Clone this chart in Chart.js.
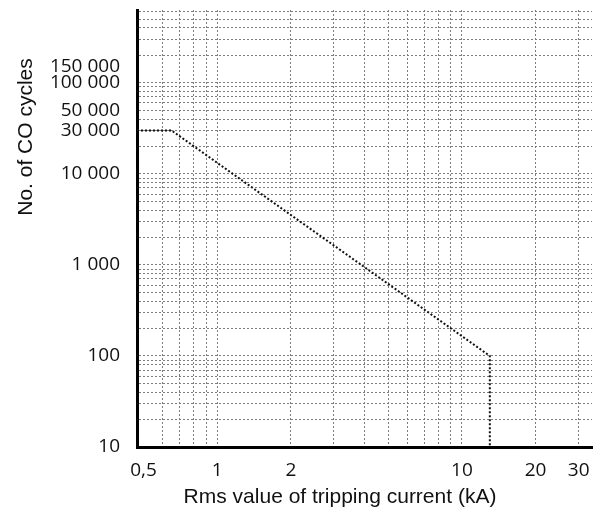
<!DOCTYPE html>
<html>
<head>
<meta charset="utf-8">
<script src="https://cdn.jsdelivr.net/npm/chart.js@4.4.1/dist/chart.umd.min.js"></script>
<style>
  html, body { margin: 0; padding: 0; background: #fff; }
  #wrap { width: 594px; height: 513px; }
</style>
</head>
<body>
<div id="wrap"><canvas id="chart"></canvas></div>
<script>
// ── Data ──────────────────────────────────────────────────────
const currentKA = [0.47, 0.65, 13, 13];        // kA
const coCycles  = [30000, 30000, 100, 10];     // no. of CO cycles

// ── Axis ticks / grid ─────────────────────────────────────────
const xMin = 0.47, xMax = 34;
const yMin = 10,   yMax = 630000;

const xLabelValues = [0.5, 1, 2, 10, 20, 30];
const xLabelTexts  = ['0,5', '1', '2', '10', '20', '30'];
const xGridValues  = [0.6, 0.7, 0.8, 0.9, 1, 2, 3, 4, 5, 6, 7, 8, 9, 10, 20, 30];

const yLabelValues = [10, 100, 1000, 10000, 30000, 50000, 100000, 150000];
const yLabelTexts  = ['10', '100', '1 000', '10 000', '30 000', '50 000', '100 000', '150 000'];
const yDecades     = [10, 100, 1000, 10000, 100000];
const ySteps       = [1, 2, 3, 4, 5, 6, 7, 8, 9];

const xTitle = 'Rms value of tripping current (kA)';
const yTitle = 'No. of CO cycles';

const yGridValues = yDecades.flatMap(d => ySteps.map(s => s * d)).filter(v => v <= yMax);

const xTicks = [...new Set([...xLabelValues, ...xGridValues])].sort((a, b) => a - b);
const yTicks = [...new Set([...yLabelValues, ...yGridValues])].sort((a, b) => a - b);

const GRID_COLOR = '#7d7d7d';
const TICK_FONT  = { family: '"Open Sans", "Noto Sans", sans-serif', size: 19 };

const gridColor = (values) => (c) =>
  c.tick && values.includes(c.tick.value) ? GRID_COLOR : 'rgba(0,0,0,0)';

const labelFor = (values, texts) => (val) => {
  const i = values.indexOf(val);
  return i >= 0 ? texts[i] : '';
};

// ── Axis titles (placed like the reference, off-centre) ───────
const axisTitles = {
  id: 'axisTitles',
  afterDraw(chart) {
    const { ctx } = chart;
    ctx.save();
    ctx.fillStyle = '#111';
    ctx.font = '21px "Liberation Sans", Arial, sans-serif';
    ctx.textAlign = 'center';
    ctx.textBaseline = 'middle';
    ctx.fillText(xTitle, 340, 497);
    ctx.translate(26, 137);
    ctx.rotate(-Math.PI / 2);
    ctx.fillText(yTitle, 0, 0);
    ctx.restore();
  },
};

// ── Chart ─────────────────────────────────────────────────────
new Chart(document.getElementById('chart'), {
  type: 'scatter',
  data: {
    datasets: [{
      label: 'CO cycles',
      data: currentKA.map((x, i) => ({ x, y: coCycles[i] })),
      showLine: true,
      borderColor: '#111',
      borderWidth: 2,
      borderDash: [2, 2],
      pointRadius: 0,
      fill: false,
    }],
  },
  options: {
    responsive: true,
    maintainAspectRatio: false,
    animation: false,
    layout: { padding: { top: 10, right: 2, left: 0, bottom: 0 } },
    plugins: {
      legend:  { display: false },
      tooltip: { enabled: false },
    },
    scales: {
      x: {
        type: 'logarithmic',
        min: xMin,
        max: xMax,
        afterBuildTicks: (s) => { s.ticks = xTicks.map(value => ({ value })); },
        afterFit: (s) => { s.height = 66; s.paddingLeft = 0; s.paddingRight = 0; },
        ticks: {
          autoSkip: false,
          maxRotation: 0,
          padding: 12,
          color: '#111',
          font: TICK_FONT,
          callback: labelFor(xLabelValues, xLabelTexts),
        },
        grid: { color: gridColor(xGridValues), lineWidth: 1, drawTicks: false },
        border: { color: '#000', width: 3, dash: [2, 2] },
      },
      y: {
        type: 'logarithmic',
        min: yMin,
        max: yMax,
        afterBuildTicks: (s) => { s.ticks = yTicks.map(value => ({ value })); },
        afterFit: (s) => { s.width = 137; s.paddingTop = 0; s.paddingBottom = 0; },
        ticks: {
          autoSkip: false,
          padding: 17,
          color: '#111',
          font: TICK_FONT,
          callback: labelFor(yLabelValues, yLabelTexts),
        },
        grid: { color: gridColor(yGridValues), lineWidth: 1, drawTicks: false },
        border: { color: '#000', width: 3, dash: [2, 2] },
      },
    },
  },
  plugins: [axisTitles],
});
</script>
</body>
</html>
